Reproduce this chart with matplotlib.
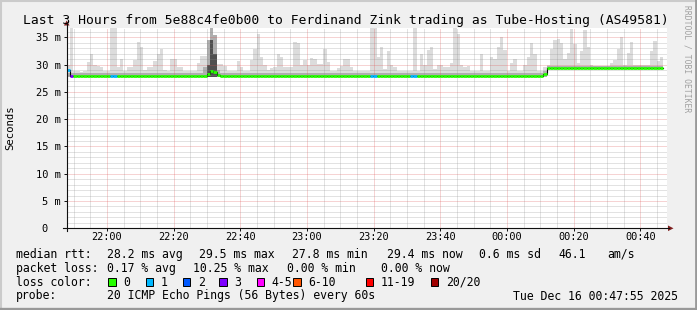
import matplotlib.pyplot as plt
import numpy as np
from matplotlib.lines import Line2D
from matplotlib.patches import Polygon, Rectangle

W, H = 697, 310
MONO = 'DejaVu Sans Mono'

# one RRD step (60 s) per entry, graph starts 21:47:55
smoke_max = [
    30.0, 36.8, 28.9, 28.9, 28.7, 28.8, 30.4, 31.9, 29.9, 29.7,
    29.5, 28.9, 28.9, 36.7, 36.7, 29.5, 31.0, 28.9, 29.6, 29.6,
    30.8, 34.1, 33.2, 29.0, 29.5, 29.5, 30.7, 31.9, 32.8, 29.0,
    28.9, 31.0, 31.0, 29.5, 29.5, 28.9, 28.9, 28.9, 28.9, 30.2,
    31.6, 31.6, 34.1, 36.7, 35.3, 30.1, 30.1, 29.8, 28.9, 28.9,
    28.9, 30.7, 29.5, 28.9, 28.9, 30.8, 32.8, 35.6, 31.3, 30.0,
    29.0, 29.3, 29.5, 31.9, 31.3, 29.5, 29.5, 29.5, 34.1, 33.9,
    30.0, 30.8, 30.0, 31.2, 31.0, 30.1, 30.1, 32.8, 30.5, 28.9,
    28.9, 29.3, 29.8, 31.0, 31.0, 29.5, 28.9, 28.9, 28.9, 28.9,
    28.9, 36.7, 36.7, 31.3, 33.2, 29.2, 32.4, 30.0, 29.5, 28.9,
    28.9, 28.9, 28.9, 28.9, 36.7, 28.9, 31.9, 30.0, 32.6, 33.2,
    29.2, 30.0, 30.0, 29.5, 29.5, 30.2, 36.7, 35.6, 30.0, 29.5,
    29.8, 28.9, 28.9, 28.9, 31.9, 28.9, 28.9, 31.4, 31.0, 33.2,
    35.0, 32.6, 28.9, 30.2, 31.0, 28.9, 28.9, 30.0, 31.3, 34.0,
    31.9, 28.9, 28.9, 29.5, 30.0, 32.8, 34.5, 34.7, 33.9, 31.0,
    32.2, 36.5, 33.7, 30.2, 32.4, 36.4, 33.2, 30.0, 29.6, 29.6,
    29.6, 29.6, 29.6, 30.2, 30.8, 32.8, 35.0, 30.0, 32.1, 34.1,
    30.0, 30.0, 30.0, 30.0, 30.0, 32.4, 34.3, 30.7, 31.3,
]
smoke_mid = [28.4] * 41 + [29.5, 34.5, 36.7, 35.5, 29.0] + [28.4] * 97 + [28.8] + [29.7] * 35
smoke_core = [27.7] * 42 + [30.0, 34.5, 32.0] + [27.7] * 99 + [29.2] * 35
smoke_min = [27.7] * 144 + [29.2] * 35
median_rtt = [29.0] + [27.9] * 41 + [28.3, 28.9, 28.6, 28.0] + [27.9] * 97 + [28.3] + [29.4] * 35
loss_events = {0: 1, 1: 3, 13: 1, 14: 1, 91: 1, 92: 1, 103: 1, 104: 1}

loss_labels = ['0', '1', '2', '3', '4-5', '6-10', '11-19', '20/20']
loss_colors = ['#26ff00', '#00b8ff', '#0059ff', '#7e00ff', '#ff00ff', '#ff5500', '#ff0000', '#a10000']
loss_limits = [0, 1, 2, 3, 5, 10, 19, 20]

x_labels = ['22:00', '22:20', '22:40', '23:00', '23:20', '23:40', '00:00', '00:20', '00:40']
first_label = 12 + 5 / 60  # 22:00 in minutes after 21:47:55

title = 'Last 3 Hours from 5e88c4fe0b00 to Ferdinand Zink trading as Tube-Hosting (AS49581)'


def fx(x):
    return x / W


def fy(y):
    return 1 - y / H


fig = plt.figure(figsize=(W / 100, H / 100), dpi=100, facecolor='#F0F0F0')
ax = fig.add_axes([fx(66.7), fy(228.3), 600 / W, 200.3 / H], facecolor='white')

n = len(smoke_max)
edges = np.arange(n + 1)


def stepped(v):
    return list(v) + [v[-1]]


# smoke: outer band light, inner bands darker
ax.fill_between(edges, stepped(smoke_min), stepped(smoke_max), step='post', color='#DCDCDC', lw=0, zorder=1)
ax.fill_between(edges, stepped(smoke_min), stepped(smoke_mid), step='post', color='#AFAFAF', lw=0, zorder=1.1)
ax.fill_between(edges, stepped(smoke_min), stepped(smoke_core), step='post', color='#505050', lw=0, zorder=1.2)

# median line, coloured by loss
ax.step(edges, stepped(median_rtt), where='post', color='black', lw=0.8, zorder=3)
loss = [loss_events.get(i, 0) for i in range(n)]
for i in range(n):
    k = next(j for j, lim in enumerate(loss_limits) if loss[i] <= lim)
    ax.hlines(median_rtt[i], i, i + 1, color=loss_colors[k], lw=2.0, zorder=3.5, capstyle='butt')

ax.set_xlim(0, 180)
ax.set_ylim(0, 36.7)
ax.set_xticks(first_label + 20 * np.arange(9))
ax.set_xticklabels(x_labels, fontfamily=MONO, fontsize=7.4)
ax.set_xticks(first_label - 10 + 5 * np.arange(36), minor=True)
ax.set_yticks(np.arange(0, 36, 5))
ax.set_yticklabels(['0  '] + ['%d m' % v for v in range(5, 36, 5)], fontfamily=MONO, fontsize=7.5)
ax.set_yticks(np.arange(0, 37, 1), minor=True)
ax.tick_params(which='major', direction='out', length=2, width=0.7, color='#101010', pad=2)
ax.tick_params(which='minor', direction='out', length=0)
ax.tick_params(axis='x', pad=1)

ax.grid(which='major', color='#DE5050', alpha=0.5, lw=0.72, ls=(0, (1, 1)), zorder=2)
ax.grid(which='minor', color='#8F8F8F', alpha=0.5, lw=0.72, ls=(0, (1, 1)), zorder=2)
ax.set_axisbelow(False)
for s in ax.spines.values():
    s.set_visible(False)

# axis lines with arrows
fig.add_artist(Line2D([fx(63), fx(669)], [fy(228.3), fy(228.3)], color='#101010', lw=0.8))
fig.add_artist(Line2D([fx(66.7), fx(66.7)], [fy(231), fy(24)], color='#101010', lw=0.8))
fig.add_artist(Polygon([[fx(668), fy(225.5)], [fx(673.5), fy(228.3)], [fx(668), fy(231.1)]],
                       closed=True, color='#7F1F1F', lw=0))
fig.add_artist(Polygon([[fx(63.9), fy(25.5)], [fx(66.7), fy(20.5)], [fx(69.5), fy(25.5)]],
                       closed=True, color='#7F1F1F', lw=0))

fig.text(fx(346), fy(24), title, fontfamily=MONO, fontsize=9.4, ha='center', va='baseline')
fig.text(fx(10.5), fy(128), 'Seconds', fontfamily=MONO, fontsize=7.7, rotation=90, ha='center', va='center')
fig.text(fx(687), fy(59), 'RRDTOOL / TOBI OETIKER', fontfamily=MONO, fontsize=5.8, rotation=-90,
         color='#A0A0A0', ha='center', va='center')

# legend
fs = 8.3
rows = [
    (257.7, [(16, 'median rtt:'), (107.3, '28.2 ms avg'), (199.3, '29.5 ms max'), (292.3, '27.8 ms min'),
             (386.7, '29.4 ms now'), (479.3, '0.6 ms sd'), (558.3, '46.1'), (607.3, 'am/s')]),
    (271.7, [(16, 'packet loss:'), (107.3, '0.17 % avg'), (193.3, '10.25 % max'), (286.7, '0.00 % min'),
             (380.7, '0.00 % now')]),
    (285.7, [(16, 'loss color:')]),
    (299.5, [(16, 'probe:'), (107.3, '20 ICMP Echo Pings (56 Bytes) every 60s'),
             (513.3, 'Tue Dec 16 00:47:55 2025')]),
]
for yb, items in rows:
    for xl, s in items:
        fig.text(fx(xl), fy(yb), s, fontfamily=MONO, fontsize=fs, ha='left', va='baseline')

swatch_x = [108.3, 145.7, 182.7, 219.3, 256.7, 293.3, 366.0, 430.7]
for xs, c, lab in zip(swatch_x, loss_colors, loss_labels):
    fig.add_artist(Rectangle((fx(xs), fy(285.7)), 7.4 / W, 7.4 / H, facecolor=c, edgecolor='black', lw=0.7))
    fig.text(fx(xs + 15), fy(285.7), lab, fontfamily=MONO, fontsize=fs, ha='left', va='baseline')

# 3d frame around the image
fig.add_artist(Line2D([0, 1], [fy(0.7), fy(0.7)], color='#CBCBCB', lw=1.5))
fig.add_artist(Line2D([fx(0.7), fx(0.7)], [0, 1], color='#CBCBCB', lw=1.5))
fig.add_artist(Line2D([0, 1], [fy(308.8), fy(308.8)], color='#999999', lw=2.4))
fig.add_artist(Line2D([fx(696), fx(696)], [0, 1], color='#999999', lw=2))

fig.savefig('out.png', dpi=100, facecolor=fig.get_facecolor())
